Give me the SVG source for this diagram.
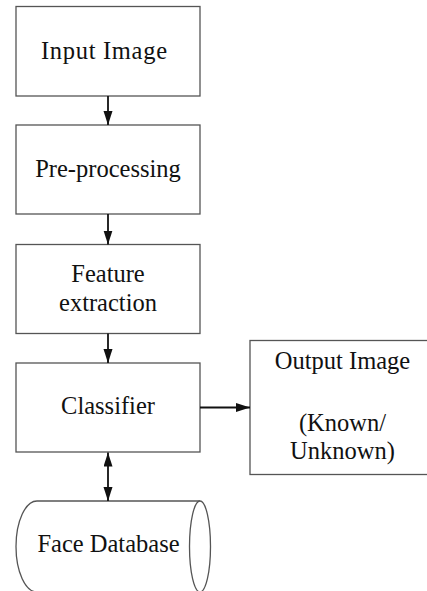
<svg xmlns="http://www.w3.org/2000/svg" width="427" height="591" viewBox="0 0 427 591">
  <style>
    .box { fill: #ffffff; stroke: #555555; stroke-width: 1.3; }
    .caption { font-family: 'Liberation Serif', 'Times New Roman', serif; font-size: 24.5px; fill: #111111; text-anchor: middle; }
    .edge { stroke: #111111; stroke-width: 1.8; fill: none; }
  </style>
  <defs>
    <marker id="arrow" markerUnits="userSpaceOnUse" markerWidth="14" markerHeight="10" refX="14" refY="4.5" orient="auto-start-reverse">
      <path d="M0,0 L14,4.5 L0,9 Z" fill="#111111"/>
    </marker>
  </defs>
  <rect width="427" height="591" fill="#ffffff"/>

  <g id="input-image">
    <rect class="box" x="16" y="6.5" width="184" height="89.5"/>
    <text class="caption" x="104" y="59" textLength="126" lengthAdjust="spacing">Input Image</text>
  </g>

  <g id="pre-processing">
    <rect class="box" x="16" y="125" width="184" height="89"/>
    <text class="caption" x="108" y="177">Pre-processing</text>
  </g>

  <g id="feature-extraction">
    <rect class="box" x="16" y="244.5" width="184" height="89"/>
    <text class="caption" x="108" y="282">Feature</text>
    <text class="caption" x="108" y="311">extraction</text>
  </g>

  <g id="classifier">
    <rect class="box" x="16" y="363" width="184" height="89"/>
    <text class="caption" x="108" y="414">Classifier</text>
  </g>

  <g id="output-image">
    <rect class="box" x="250" y="340.5" width="186" height="134"/>
    <text class="caption" x="342.5" y="369">Output Image</text>
    <text class="caption" x="342.5" y="431">(Known/</text>
    <text class="caption" x="342.5" y="459">Unknown)</text>
  </g>

  <g id="face-database">
    <!-- horizontal cylinder: left rim arc, straight top/bottom, open right end -->
    <path class="box" d="M37,501 L200,501 A10.5,45.5 0 0 1 200,592 L37,592 A21,45.5 0 0 1 37,501 Z"/>
    <path class="box" fill="none" d="M200,501 A10.5,45.5 0 0 0 200,592"/>
    <text class="caption" x="108.5" y="552">Face Database</text>
  </g>

  <g id="connectors">
    <line class="edge" x1="108" y1="96" x2="108" y2="125" marker-end="url(#arrow)"/>
    <line class="edge" x1="108" y1="214" x2="108" y2="244.5" marker-end="url(#arrow)"/>
    <line class="edge" x1="108" y1="333.5" x2="108" y2="363" marker-end="url(#arrow)"/>
    <line class="edge" x1="200" y1="407.5" x2="250" y2="407.5" marker-end="url(#arrow)"/>
    <line class="edge" x1="108" y1="452.5" x2="108" y2="501" marker-start="url(#arrow)" marker-end="url(#arrow)"/>
  </g>
</svg>
